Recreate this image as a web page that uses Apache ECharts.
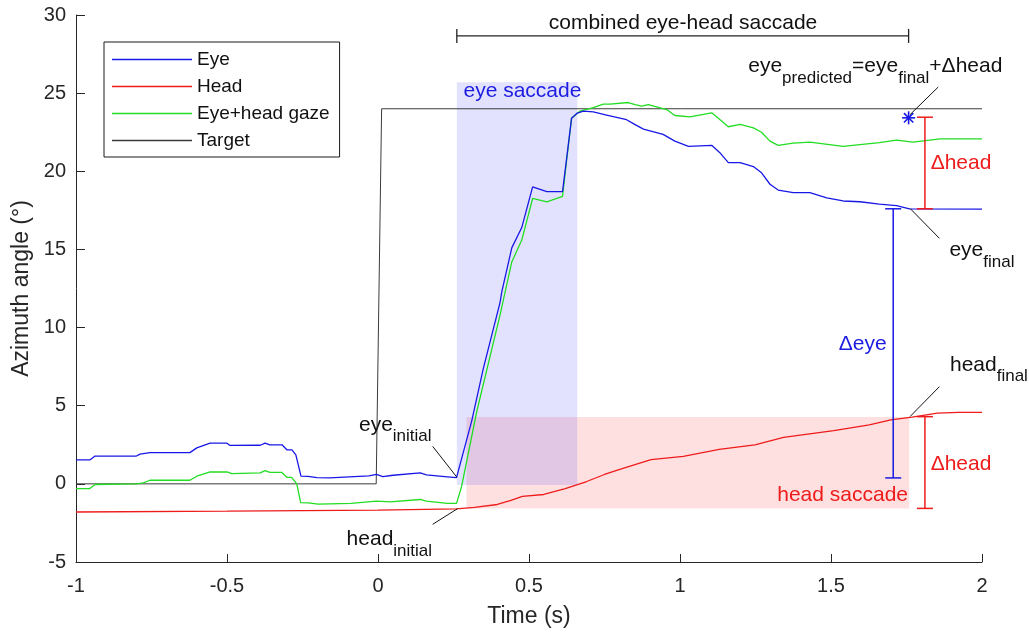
<!DOCTYPE html>
<html>
<head>
<meta charset="utf-8">
<script src="https://cdn.jsdelivr.net/npm/echarts@6/dist/echarts.min.js"></script>
<style>
  html, body { margin: 0; padding: 0; background: #fff; }
  #chart { width: 1029px; height: 633px; }
</style>
</head>
<body>
<div id="chart"></div>
<script>
/* Eye / head / gaze azimuth during a combined eye-head saccade. */
const FONT = "'Liberation Sans', Arial, sans-serif";
const INK = "#262626";
const BLUE = "#1818e6", RED = "#ee1b1b", GREEN = "#22dd22", BLACK = "#3a3a3a";

// time (s) and azimuth (deg) samples
const eyeT = [-1, -0.954, -0.937, -0.8, -0.788, -0.755, -0.623, -0.6, -0.556, -0.5, -0.49, -0.39, -0.374, -0.358, -0.318, -0.301, -0.285, -0.272, -0.255, -0.232, -0.202, -0.16, -0.095, -0.03, -0.005, 0.016, 0.05, 0.14, 0.16, 0.23, 0.26,
  0.31, 0.349, 0.404, 0.41, 0.443, 0.476, 0.512, 0.559, 0.611, 0.641, 0.658, 0.68, 0.713, 0.757, 0.823, 0.85, 0.879, 0.944, 0.983, 1.028, 1.105, 1.132, 1.16, 1.199, 1.243, 1.27, 1.298, 1.325, 1.375, 1.43, 1.486, 1.54, 1.596, 1.66, 1.717, 1.76, 2];
const eyeV = [1.53, 1.53, 1.78, 1.78, 1.9, 2.0, 2.0, 2.3, 2.6, 2.6, 2.46, 2.47, 2.6, 2.5, 2.5, 2.17, 2.17, 1.85, 0.5, 0.48, 0.4, 0.38, 0.45, 0.51, 0.6, 0.46, 0.55, 0.7, 0.57, 0.45, 0.4,
  4.0, 7.4, 11.6, 12.3, 15.1, 16.4, 19.0, 18.7, 18.7, 23.4, 23.7, 23.85, 23.8, 23.6, 23.3, 23.0, 22.7, 22.36, 21.93, 21.6, 21.66, 21.19, 20.55, 20.55, 20.3, 19.9, 19.17, 18.8, 18.64, 18.64, 18.3, 18.1, 18.05, 17.9, 17.8, 17.6, 17.58];

const gazeT = [-1, -0.954, -0.937, -0.8, -0.777, -0.755, -0.623, -0.6, -0.556, -0.5, -0.484, -0.39, -0.374, -0.358, -0.319, -0.302, -0.286, -0.269, -0.256, -0.231, -0.198, -0.09, -0.005, 0.04, 0.14, 0.16, 0.23, 0.26,
  0.277, 0.327, 0.404, 0.443, 0.476, 0.512, 0.559, 0.611, 0.641, 0.669, 0.713, 0.746, 0.768, 0.829, 0.851, 0.873, 0.895, 0.956, 0.983, 1.033, 1.105, 1.127, 1.16, 1.199, 1.243, 1.27, 1.298, 1.325, 1.375, 1.43, 1.54, 1.66, 1.717, 1.772, 1.861, 2];
const gazeV = [-0.3, -0.3, -0.04, 0.0, 0.06, 0.23, 0.23, 0.49, 0.76, 0.76, 0.66, 0.7, 0.85, 0.74, 0.74, 0.42, 0.42, 0.0, -1.2, -1.22, -1.3, -1.25, -1.1, -1.15, -1.0, -1.1, -1.25, -1.25,
  -0.15, 4.63, 10.8, 14.2, 15.6, 18.26, 18.05, 18.4, 23.4, 23.85, 24.07, 24.3, 24.3, 24.4, 24.27, 24.17, 24.27, 23.95, 23.57, 23.48, 23.74, 23.4, 22.85, 23.0, 22.78, 22.5, 21.93, 21.66, 21.8, 21.87, 21.6, 21.83, 22.0, 21.87, 22.08, 22.08];

const headT = [-1, -0.5, 0, 0.259, 0.32, 0.395, 0.44, 0.478, 0.549, 0.62, 0.691, 0.75, 0.798, 0.904, 1.011, 1.13, 1.248, 1.343, 1.509, 1.627, 1.698, 1.769, 1.852, 1.923, 2];
const headV = [-1.8, -1.75, -1.68, -1.6, -1.5, -1.32, -1.05, -0.8, -0.68, -0.3, 0.15, 0.6, 0.91, 1.55, 1.76, 2.2, 2.5, 2.97, 3.4, 3.78, 4.1, 4.27, 4.52, 4.57, 4.57];

const targetT = [-1, -0.006, 0.012, 2];
const targetV = [0, 0, 24, 24];

// annotation geometry, data coordinates
const eyeSaccadeBox = [0.261, 0.66, -0.08, 25.7];    // t0, t1, v0, v1
const headSaccadeBox = [0.293, 1.759, -1.57, 4.27];
const dHeadBars = [[1.811, 17.6, 23.46], [1.811, -1.57, 4.3]];  // t, lo, hi
const dEyeBars = [[1.706, 0.38, 17.6]];
const combinedBracket = [[0.261, 1.757, 28.66]];      // t0, t1, v
const predictedPt = [[1.757, 23.42]];

const pair = (ts, vs) => ts.map((t, i) => [t, vs[i]]);

const chart = echarts.init(document.getElementById("chart"));

function vBars(color) {
  return (params, api) => {
    const a = api.coord([api.value(0), api.value(1)]), b = api.coord([api.value(0), api.value(2)]);
    const st = { stroke: color, lineWidth: 1.5 };
    return { type: "group", children: [
      { type: "line", shape: { x1: a[0], y1: a[1], x2: b[0], y2: b[1] }, style: st },
      { type: "line", shape: { x1: a[0] - 8, y1: a[1], x2: a[0] + 8, y2: a[1] }, style: st },
      { type: "line", shape: { x1: b[0] - 8, y1: b[1], x2: b[0] + 8, y2: b[1] }, style: st },
    ] };
  };
}

function boxItem(color) {
  return (params, api) => {
    const p0 = api.coord([api.value(0), api.value(3)]), p1 = api.coord([api.value(1), api.value(2)]);
    return { type: "rect", shape: { x: p0[0], y: p0[1], width: p1[0] - p0[0], height: p1[1] - p0[1] }, style: { fill: color } };
  };
}

chart.setOption({
  animation: false,
  grid: { left: 76, right: 47, top: 15, bottom: 69 },
  xAxis: {
    type: "value", min: -1, max: 2, interval: 0.5,
    name: "Time (s)", nameLocation: "middle", nameGap: 43,
    nameTextStyle: { color: INK, fontSize: 23, fontFamily: FONT },
    axisLine: { show: true, onZero: false, lineStyle: { color: INK, width: 1 } },
    axisTick: { show: true, inside: true, length: 8, lineStyle: { color: INK } },
    axisLabel: { color: INK, fontSize: 20, fontFamily: FONT, margin: 14 },
    splitLine: { show: false },
  },
  yAxis: {
    type: "value", min: -5, max: 30, interval: 5,
    name: "Azimuth angle (°)", nameLocation: "middle", nameGap: 32,
    nameTextStyle: { color: INK, fontSize: 23, fontFamily: FONT },
    axisLine: { show: true, onZero: false, lineStyle: { color: INK, width: 1 } },
    axisTick: { show: true, inside: true, length: 9, lineStyle: { color: INK } },
    axisLabel: { color: INK, fontSize: 20, fontFamily: FONT, margin: 10 },
    splitLine: { show: false },
  },
  legend: {
    orient: "vertical", left: 104, top: 42,
    data: ["Eye", "Head", "Eye+head gaze", "Target"],
    icon: "rect", itemWidth: 80, itemHeight: 1.4, itemGap: 8, itemTextGap: 7,
    padding: [8, 10, 7, 8],
    borderColor: "#1a1a1a", borderWidth: 1, backgroundColor: "#fff",
    textStyle: { color: "#111", fontSize: 19, lineHeight: 19, fontFamily: FONT },
  },
  series: [
    { type: "custom", silent: true, z: 1, renderItem: boxItem("rgba(255,0,0,0.12)"),
      encode: { x: [0, 1], y: [2, 3] }, data: [headSaccadeBox] },
    { type: "custom", silent: true, z: 1, renderItem: boxItem("rgba(0,0,255,0.115)"),
      encode: { x: [0, 1], y: [2, 3] }, data: [eyeSaccadeBox] },
    { name: "Target", type: "line", symbol: "none", z: 2, data: pair(targetT, targetV),
      lineStyle: { color: BLACK, width: 1 }, itemStyle: { color: BLACK } },
    { name: "Head", type: "line", symbol: "none", z: 3, data: pair(headT, headV),
      lineStyle: { color: RED, width: 1.3 }, itemStyle: { color: RED } },
    { name: "Eye+head gaze", type: "line", symbol: "none", z: 3, data: pair(gazeT, gazeV),
      lineStyle: { color: GREEN, width: 1.3 }, itemStyle: { color: GREEN } },
    { name: "Eye", type: "line", symbol: "none", z: 4, data: pair(eyeT, eyeV),
      lineStyle: { color: BLUE, width: 1.3 }, itemStyle: { color: BLUE } },
    { type: "custom", silent: true, z: 5, renderItem: vBars(RED), encode: { x: 0, y: [1, 2] }, data: dHeadBars },
    { type: "custom", silent: true, z: 5, renderItem: vBars(BLUE), encode: { x: 0, y: [1, 2] }, data: dEyeBars },
    { type: "custom", silent: true, z: 5, encode: { x: [0, 1], y: 2 }, data: combinedBracket,
      renderItem: (params, api) => {
        const a = api.coord([api.value(0), api.value(2)]), b = api.coord([api.value(1), api.value(2)]);
        const st = { stroke: "#222", lineWidth: 1.3 };
        return { type: "group", children: [
          { type: "line", shape: { x1: a[0], y1: a[1], x2: b[0], y2: b[1] }, style: st },
          { type: "line", shape: { x1: a[0], y1: a[1] - 7, x2: a[0], y2: a[1] + 7 }, style: st },
          { type: "line", shape: { x1: b[0], y1: b[1] - 7, x2: b[0], y2: b[1] + 7 }, style: st },
        ] };
      } },
    { type: "custom", silent: true, z: 6, encode: { x: 0, y: 1 }, data: predictedPt,
      renderItem: (params, api) => {
        const c = api.coord([api.value(0), api.value(1)]), r = 6.5, d = r * 0.72;
        const st = { stroke: BLUE, lineWidth: 1.6 };
        return { type: "group", children: [
          { type: "line", shape: { x1: c[0] - r, y1: c[1], x2: c[0] + r, y2: c[1] }, style: st },
          { type: "line", shape: { x1: c[0], y1: c[1] - r, x2: c[0], y2: c[1] + r }, style: st },
          { type: "line", shape: { x1: c[0] - d, y1: c[1] - d, x2: c[0] + d, y2: c[1] + d }, style: st },
          { type: "line", shape: { x1: c[0] - d, y1: c[1] + d, x2: c[0] + d, y2: c[1] - d }, style: st },
        ] };
      } },
  ],
});

// text annotations with subscripts, anchored in data coordinates
const ctx = document.createElement("canvas").getContext("2d");
const measure = (s, size) => { ctx.font = size + "px " + FONT; return ctx.measureText(s).width; };
const px = (p) => chart.convertToPixel({ gridIndex: 0 }, p);

function label(at, parts, color, align) {
  const p = px(at);
  const sized = parts.map(([s, sub]) => [s, sub, sub ? 17 : 21]);
  const total = sized.reduce((w, [s, , sz]) => w + measure(s, sz), 0);
  let x = align === "right" ? p[0] - total : align === "center" ? p[0] - total / 2 : p[0];
  return sized.map(([s, sub, sz]) => {
    const el = { type: "text", x: x, y: p[1] + (sub ? 11.4 : 0), z: 10, silent: true,
      style: { text: s, fontSize: sz, fontFamily: FONT, fill: color, align: "left", verticalAlign: "middle" } };
    x += measure(s, sz);
    return el;
  });
}
function leader(a, b) {
  const p = px(a), q = px(b);
  return { type: "line", z: 10, silent: true, shape: { x1: p[0], y1: p[1], x2: q[0], y2: q[1] }, style: { stroke: "#111", lineWidth: 1 } };
}

chart.setOption({ graphic: [
  ...label([1.01, 29.5], [["combined eye-head saccade", 0]], "#111", "center"),
  ...label([0.283, 25.1], [["eye saccade", 0]], "#1c1ce0", "left"),
  ...label([1.755, -0.75], [["head saccade", 0]], RED, "right"),
  ...label([1.83, 20.5], [["Δhead", 0]], RED, "left"),
  ...label([1.83, 1.27], [["Δhead", 0]], RED, "left"),
  ...label([1.684, 8.92], [["Δeye", 0]], "#1c1ce0", "right"),
  ...label([-0.063, 3.78], [["eye", 0], ["initial", 1]], "#111", "left"),
  ...label([-0.104, -3.57], [["head", 0], ["initial", 1]], "#111", "left"),
  ...label([1.892, 14.93], [["eye", 0], ["final", 1]], "#111", "left"),
  ...label([1.894, 7.6], [["head", 0], ["final", 1]], "#111", "left"),
  ...label([1.226, 26.71], [["eye", 0], ["predicted", 1], ["=eye", 0], ["final", 1], ["+Δhead", 0]], "#111", "left"),
  leader([0.181, 2.4], [0.261, 0.43]),
  leader([0.181, -2.59], [0.263, -1.59]),
  leader([1.762, 17.62], [1.859, 15.71]),
  leader([1.762, 4.31], [1.859, 6.22]),
  leader([1.855, 25.39], [1.762, 23.63]),
] });
</script>
</body>
</html>
